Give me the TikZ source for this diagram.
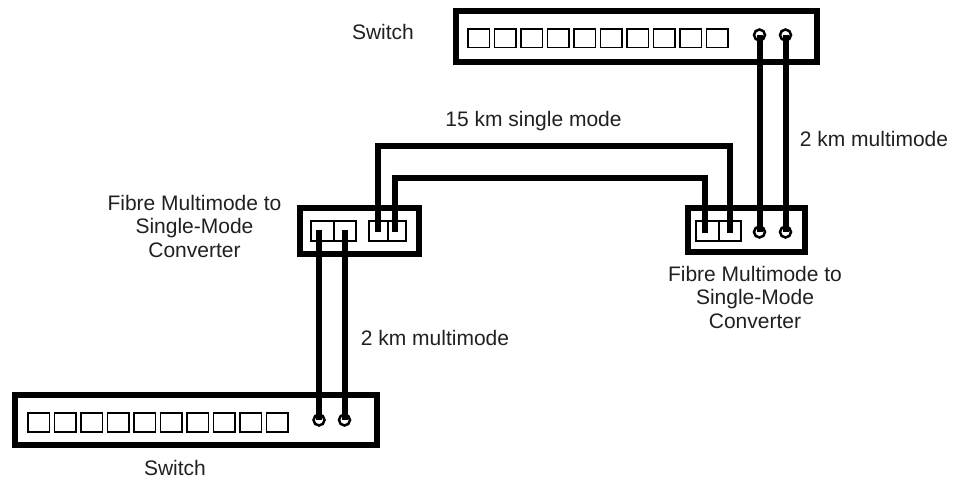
\documentclass[tikz,border=0pt]{standalone}
\usepackage{fontspec}
\setmainfont{Liberation Sans}
\definecolor{txt}{RGB}{35,31,32}
\begin{document}
\begin{tikzpicture}[x=1pt,y=-1pt,
  devbox/.style={draw=black, line width=5.5pt, inner sep=0pt, rectangle},
  duplex/.style={draw=black, line width=2pt, inner sep=0pt, rectangle, minimum height=20pt},
  portsq/.style={draw=black, line width=1.8pt},
  portc/.style={circle, draw=black, line width=2.5pt, minimum size=11pt, inner sep=0pt},
  fibre/.style={draw=black, line width=6pt, line cap=butt, line join=miter},
  lbl/.style={font=\fontsize{21}{23.5}\selectfont, text=txt, inner sep=0pt, align=center}]
\useasboundingbox (0,0) rectangle (953,481);

% devices
\node[devbox, minimum width=361pt, minimum height=51pt] (sw1) at (636.5,36.5) {};
\node[devbox, minimum width=362pt, minimum height=50pt] (sw2) at (196,420) {};
\node[devbox, minimum width=119pt, minimum height=46pt] (convL) at (359.5,231) {};
\node[devbox, minimum width=117pt, minimum height=44pt] (convR) at (746.5,230) {};

% switch ports
\foreach \i in {0,...,9} {
  \draw[portsq] ({468+26.5*\i},29) rectangle ++(21.5,18.5);
  \draw[portsq] ({28+26.5*\i},413) rectangle ++(21.5,19);
}

% duplex connectors
\node[duplex, minimum width=45pt] (dL1) at (333.5,231) {};
\node[duplex, minimum width=37pt] (dL2) at (387.5,231) {};
\node[duplex, minimum width=45pt] (dR1) at (718.5,231) {};
\draw[line width=2pt] (dL1.north) -- (dL1.south);
\draw[line width=2pt] (dL2.north) -- (dL2.south);
\draw[line width=2pt] (dR1.north) -- (dR1.south);

% round ports
\node[portc] (p1a) at (759.5,35) {};
\node[portc] (p1b) at (785.5,35) {};
\node[portc] (p2a) at (759.5,232) {};
\node[portc] (p2b) at (785.5,232) {};
\node[portc] (p3a) at (319,420) {};
\node[portc] (p3b) at (344.5,420) {};

% fibre ends inside duplex connectors
\coordinate (cLa1) at (319,230);
\coordinate (cLa2) at (344.5,230);
\coordinate (cLb1) at (378,232);
\coordinate (cLb2) at (395,232);
\coordinate (cRa1) at (704.5,233);
\coordinate (cRa2) at (730,233);

% fibres
\draw[fibre] (p1a.center) -- (p2a.center);
\draw[fibre] (p1b.center) -- (p2b.center);
\draw[fibre] (cLa1) -- (p3a.center);
\draw[fibre] (cLa2) -- (p3b.center);
\draw[fibre] (cLb1) -- ++(0,-86) -| (cRa2);
\draw[fibre] (cLb2) -- ++(0,-54) -| (cRa1);

% labels
\node[lbl, anchor=base] (tSw1) at (383,40) {Switch};
\node[lbl, anchor=base] (tSw2) at (175,475) {Switch};
\node[lbl, anchor=base] (t15) at (533.5,127) {15 km single mode};
\node[lbl, anchor=base] (t2a) at (874,147) {2 km multimode};
\node[lbl, anchor=base] (t2b) at (435,345) {2 km multimode};
\node[lbl, anchor=base] (tCL) at (194.5,257) {Fibre Multimode to\\Single-Mode\\Converter};
\node[lbl, anchor=base] (tCR) at (755,328) {Fibre Multimode to\\Single-Mode\\Converter};
\end{tikzpicture}
\end{document}
